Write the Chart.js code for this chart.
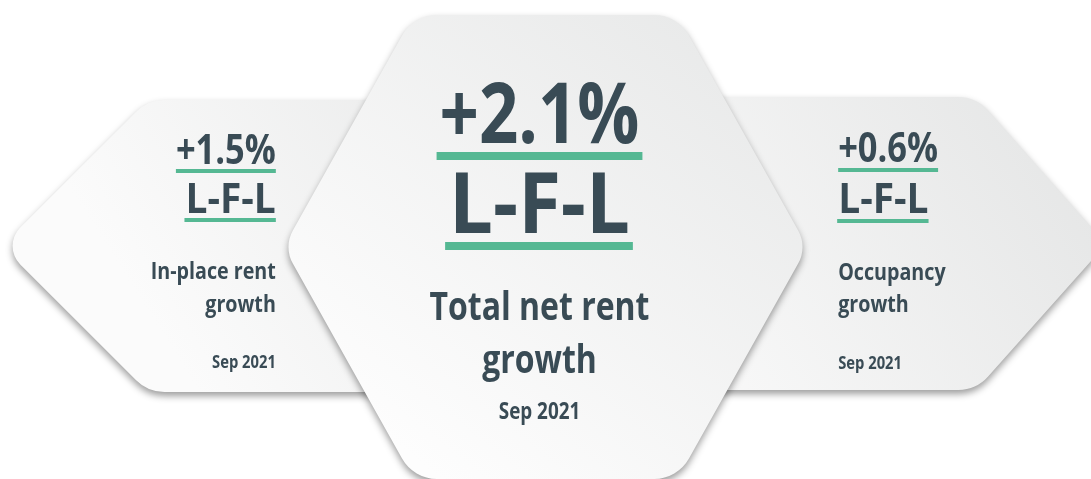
<!DOCTYPE html>
<html lang="en">
<head>
    <meta charset="UTF-8">
    <title>L-F-L rent growth</title>
    <script src="https://cdn.jsdelivr.net/npm/chart.js"></script>
    <style>
        body {
            margin: 0;
            padding: 0;
            background: #ffffff;
        }
        .chart-box {
            width: 1091px;
            height: 479px;
        }
    </style>
</head>
<body>
    <div class="chart-box">
        <canvas id="hexChart"></canvas>
    </div>

    <script>
        // data
        const categories = ['In-place rent growth', 'Total net rent growth', 'Occupancy growth'];
        const lflValues = [1.5, 2.1, 0.6];
        const captionLines = [['In-place rent', 'growth'], ['Total net rent', 'growth'], ['Occupancy', 'growth']];
        const periodLabels = ['Sep 2021', 'Sep 2021', 'Sep 2021'];
        const measureLabel = 'L-F-L';

        const TEXT = '#394b55';
        const GREEN = '#55b893';
        const FONT = '"Open Sans", "Noto Sans", sans-serif';
        const CONDENSE = 0.82;

        // tile geometry, x offsets from the category pixel
        const tiles = [
            { // left, arrow pointing left
                pts: [[-180, 246], [-34, 100], [330, 100], [476, 246], [330, 392], [-34, 392]],
                radii: [26, 40, 40, 26, 40, 40],
                shade: ['#e3e4e4', '#fbfbfb'],
                align: 'right', tx: 94,
                big: 42, valueY: 164, lflY: 213, bar: 4, barGap: 5,
                cap: 24, capY: [279, 312], per: 18, perY: 368
            },
            { // centre
                pts: [[-262, 247], [-132, 15], [132, 15], [262, 247], [132, 479], [-132, 479]],
                radii: [34, 40, 40, 34, 40, 40],
                shade: ['#e6e7e7', '#fdfdfd'],
                align: 'center', tx: -6,
                big: 84, valueY: 143, lflY: 233, bar: 8, barGap: 9,
                cap: 39, capY: [320, 373], per: 23, perY: 419
            },
            { // right, arrow pointing right
                pts: [[-476, 244], [-330, 97], [67, 97], [197, 244], [67, 390], [-330, 390]],
                radii: [26, 40, 40, 26, 40, 40],
                shade: ['#e3e4e4', '#fbfbfb'],
                align: 'left', tx: -71,
                big: 42, valueY: 162, lflY: 213, bar: 4, barGap: 6,
                cap: 24, capY: [280, 312], per: 18, perY: 369
            }
        ];

        function roundedPoly(ctx, pts, radii) {
            const n = pts.length;
            const a = pts[n - 1], b = pts[0];
            ctx.beginPath();
            ctx.moveTo((a[0] + b[0]) / 2, (a[1] + b[1]) / 2);
            for (let i = 0; i < n; i++) {
                const p = pts[i], q = pts[(i + 1) % n];
                ctx.arcTo(p[0], p[1], q[0], q[1], radii[i]);
            }
            ctx.closePath();
        }

        // draws condensed text, returns [left, right] of the drawn run
        function drawText(ctx, str, x, y, size, align, stretch) {
            const sx = CONDENSE * (stretch || 1);
            ctx.font = '700 ' + size + 'px ' + FONT;
            const w = ctx.measureText(str).width * sx;
            let left = x;
            if (align === 'center') left = x - w / 2;
            if (align === 'right') left = x - w;
            ctx.save();
            ctx.translate(left, y);
            ctx.scale(sx, 1);
            ctx.textAlign = 'left';
            ctx.textBaseline = 'alphabetic';
            ctx.fillStyle = TEXT;
            ctx.fillText(str, 0, 0);
            ctx.restore();
            return [left, left + w];
        }

        function drawTile(ctx, chart, i) {
            const t = tiles[i];
            const ax = chart.scales.x.getPixelForValue(i);
            const pts = t.pts.map(p => [ax + p[0], p[1]]);
            const xs = pts.map(p => p[0]), ys = pts.map(p => p[1]);
            const x0 = Math.min(...xs), x1 = Math.max(...xs);
            const y0 = Math.min(...ys), y1 = Math.max(...ys);

            ctx.save();
            roundedPoly(ctx, pts, t.radii);
            const g = ctx.createLinearGradient(x1, y0, x0 + (x1 - x0) * 0.3, y1);
            g.addColorStop(0, t.shade[0]);
            g.addColorStop(1, t.shade[1]);
            ctx.fillStyle = g;
            ctx.shadowColor = 'rgba(0, 0, 0, 0.38)';
            ctx.shadowBlur = 7;
            ctx.shadowOffsetY = 4;
            ctx.fill();
            ctx.restore();

            const tx = ax + t.tx;
            const value = chart.data.datasets[0].data[i];
            const valueText = (value >= 0 ? '+' : '') + value.toFixed(1) + '%';

            const pad = t.align === 'center' ? 3 : 0;
            let r = drawText(ctx, valueText, tx, t.valueY, t.big, t.align);
            ctx.fillStyle = GREEN;
            ctx.fillRect(r[0] - pad, t.valueY + t.barGap, r[1] - r[0] + pad * 2, t.bar);

            r = drawText(ctx, measureLabel, tx, t.lflY, t.big, t.align, 1.13);
            ctx.fillStyle = GREEN;
            ctx.fillRect(r[0] - pad - 1, t.lflY + t.barGap, r[1] - r[0] + pad * 2 + 1, t.bar);

            captionLines[i].forEach((line, k) => {
                drawText(ctx, line, tx, t.capY[k], t.cap, t.align);
            });
            drawText(ctx, periodLabels[i], tx, t.perY, t.per, t.align);
        }

        const hexTiles = {
            id: 'hexTiles',
            beforeDatasetsDraw(chart) {
                const ctx = chart.ctx;
                [0, 2, 1].forEach(i => drawTile(ctx, chart, i));
            }
        };

        new Chart(document.getElementById('hexChart'), {
            type: 'bar',
            data: {
                labels: categories,
                datasets: [{
                    data: lflValues,
                    backgroundColor: 'rgba(0,0,0,0)',
                    borderWidth: 0
                }]
            },
            options: {
                responsive: true,
                maintainAspectRatio: false,
                animation: false,
                layout: { padding: 0 },
                plugins: {
                    legend: { display: false },
                    tooltip: { enabled: false }
                },
                scales: {
                    x: { display: false },
                    y: { display: false, beginAtZero: true }
                }
            },
            plugins: [hexTiles]
        });
    </script>
</body>
</html>
